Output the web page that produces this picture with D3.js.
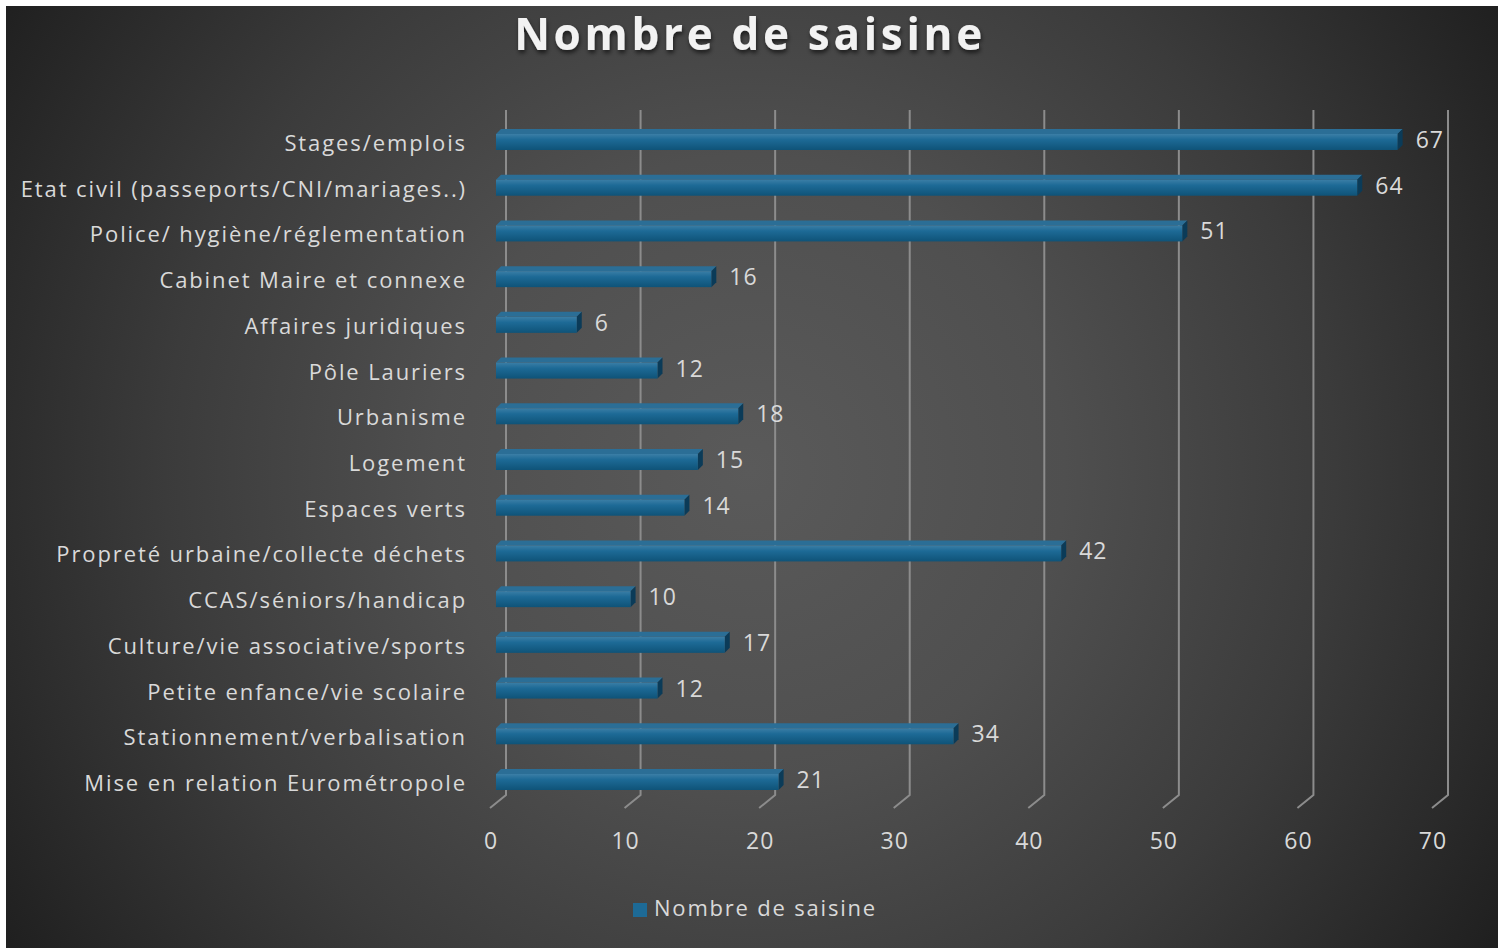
<!DOCTYPE html>
<html>
<head>
<meta charset="utf-8">
<script src="https://cdn.jsdelivr.net/npm/d3@7"></script>
<style>
  body { margin: 0; background: #fff; }
  text { font-family: "Open Sans", sans-serif; }
</style>
</head>
<body>
<div id="chart"></div>
<script>
// data
var categories = [
    "Stages/emplois",
    "Etat civil (passeports/CNI/mariages..)",
    "Police/ hygiène/réglementation",
    "Cabinet Maire et connexe",
    "Affaires juridiques",
    "Pôle Lauriers",
    "Urbanisme",
    "Logement",
    "Espaces verts",
    "Propreté urbaine/collecte déchets",
    "CCAS/séniors/handicap",
    "Culture/vie associative/sports",
    "Petite enfance/vie scolaire",
    "Stationnement/verbalisation",
    "Mise en relation Eurométropole"
];
var values = [67, 64, 51, 16, 6, 12, 18, 15, 14, 42, 10, 17, 12, 34, 21];
var ticks = [0, 10, 20, 30, 40, 50, 60, 70];
var seriesName = "Nombre de saisine";

var W = 1504, H = 948;

var svg = d3.select("#chart").append("svg")
    .attr("width", W)
    .attr("height", H);

var defs = svg.append("defs");

// dark radial background
var bg = defs.append("radialGradient")
    .attr("id", "bg")
    .attr("gradientUnits", "userSpaceOnUse")
    .attr("cx", 750).attr("cy", 470).attr("r", 900);
bg.append("stop").attr("offset", "0%").attr("stop-color", "#5a5a5a");
bg.append("stop").attr("offset", "35%").attr("stop-color", "#4f4f4f");
bg.append("stop").attr("offset", "65%").attr("stop-color", "#3b3b3b");
bg.append("stop").attr("offset", "100%").attr("stop-color", "#1e1e1e");

// bar front face gradient
var fg = defs.append("linearGradient")
    .attr("id", "barFront")
    .attr("x1", 0).attr("y1", 0).attr("x2", 0).attr("y2", 1);
fg.append("stop").attr("offset", "0%").attr("stop-color", "#3b7ea6");
fg.append("stop").attr("offset", "35%").attr("stop-color", "#1d6a96");
fg.append("stop").attr("offset", "100%").attr("stop-color", "#0f5378");

var shadow = defs.append("filter").attr("id", "shadow")
    .attr("x", "-10%").attr("y", "-20%").attr("width", "120%").attr("height", "150%");
shadow.append("feDropShadow")
    .attr("dx", 1).attr("dy", 3).attr("stdDeviation", 2)
    .attr("flood-color", "#000").attr("flood-opacity", 0.6);

svg.append("rect")
    .attr("x", 6).attr("y", 6)
    .attr("width", 1492).attr("height", H - 6)
    .attr("fill", "url(#bg)");

// scales: front plane, back wall, bar depth
var xFront = d3.scaleLinear().domain([0, 70]).range([490, 1432]);
var xBack = d3.scaleLinear().domain([0, 70]).range([506, 1448]);
var xBar = d3.scaleLinear().domain([0, 70]).range([496, 1438]);
var y = d3.scalePoint().domain(categories).range([140, 780]);

var wallTop = 110, wallBottom = 795, floorFront = 808;
var depth = 5;

// gridlines on back wall + floor
var grid = svg.append("g");
grid.selectAll("path.grid")
    .data(ticks).enter()
    .append("path")
    .attr("class", "grid")
    .attr("d", function (d) {
        return "M" + xBack(d) + "," + wallTop + "L" + xBack(d) + "," + wallBottom +
               "L" + xFront(d) + "," + floorFront;
    })
    .attr("fill", "none")
    .attr("stroke", "#8c8c8c")
    .attr("stroke-width", 2);

// tick labels
svg.append("g").selectAll("text")
    .data(ticks).enter()
    .append("text")
    .attr("x", function (d) { return xFront(d) + 1; })
    .attr("y", 849)
    .attr("text-anchor", "middle")
    .attr("fill", "#d9d9d9")
    .attr("font-size", 23)
    .attr("letter-spacing", 1)
    .text(function (d) { return d; });

// 3d bars
var bars = svg.append("g").selectAll("g")
    .data(values).enter()
    .append("g");

bars.append("path") // top face
    .attr("d", function (d, i) {
        var c = y(categories[i]), x0 = xBar(0), x1 = xBar(d);
        return "M" + x0 + "," + (c - 6) + "L" + (x0 + depth) + "," + (c - 6 - depth) +
               "L" + (x1 + depth) + "," + (c - 6 - depth) + "L" + x1 + "," + (c - 6) + "Z";
    })
    .attr("fill", "#2b6e96");

bars.append("path") // side face
    .attr("d", function (d, i) {
        var c = y(categories[i]), x1 = xBar(d);
        return "M" + x1 + "," + (c - 6) + "L" + (x1 + depth) + "," + (c - 6 - depth) +
               "L" + (x1 + depth) + "," + (c + 10 - depth) + "L" + x1 + "," + (c + 10) + "Z";
    })
    .attr("fill", "#0b3b58");

bars.append("rect") // front face
    .attr("x", xBar(0))
    .attr("y", function (d, i) { return y(categories[i]) - 6; })
    .attr("width", function (d) { return xBar(d) - xBar(0); })
    .attr("height", 16)
    .attr("fill", "url(#barFront)");

// value labels
bars.append("text")
    .attr("x", function (d) { return xBar(d) + 18; })
    .attr("y", function (d, i) { return y(categories[i]) + 8; })
    .attr("fill", "#d9d9d9")
    .attr("font-size", 23)
    .attr("letter-spacing", 1)
    .text(function (d) { return d; });

// category labels
svg.append("g").selectAll("text")
    .data(categories).enter()
    .append("text")
    .attr("x", 467)
    .attr("y", function (d) { return y(d) + 11; })
    .attr("text-anchor", "end")
    .attr("fill", "#d9d9d9")
    .attr("font-size", 22)
    .attr("letter-spacing", 1.9)
    .text(function (d) { return d; });

// title
svg.append("text")
    .attr("x", 750)
    .attr("y", 50)
    .attr("text-anchor", "middle")
    .attr("fill", "#f2f2f2")
    .attr("font-size", 44)
    .attr("font-weight", "bold")
    .attr("letter-spacing", 3.7)
    .attr("filter", "url(#shadow)")
    .text(seriesName);

// legend
svg.append("rect")
    .attr("x", 633).attr("y", 903)
    .attr("width", 14).attr("height", 14)
    .attr("fill", "#1d6a96");
svg.append("text")
    .attr("x", 654)
    .attr("y", 916)
    .attr("fill", "#d9d9d9")
    .attr("font-size", 22)
    .attr("letter-spacing", 1.8)
    .text(seriesName);
</script>
</body>
</html>
